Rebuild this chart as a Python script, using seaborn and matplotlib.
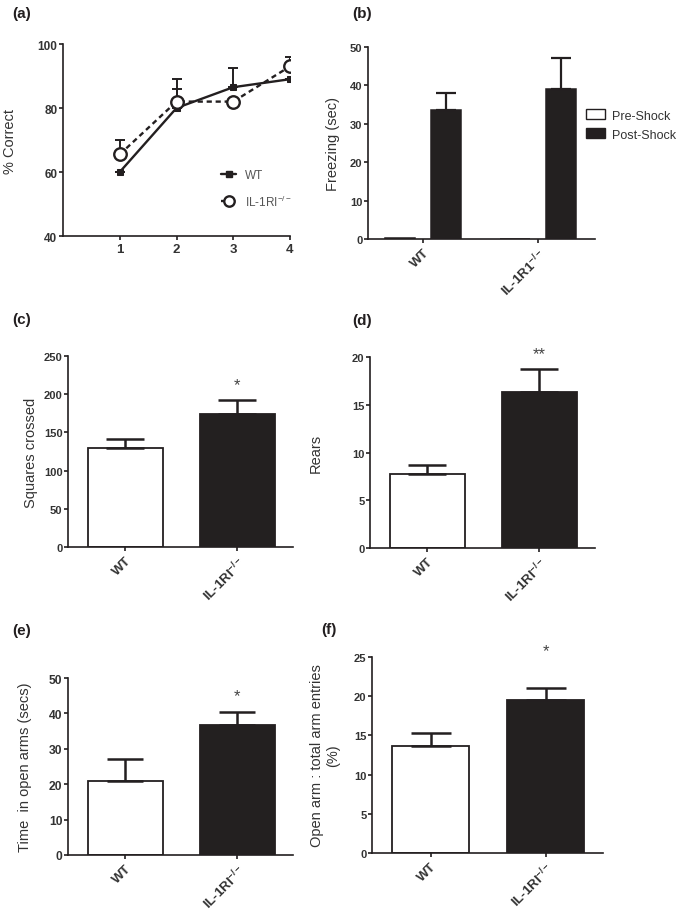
import matplotlib
matplotlib.use('Agg')
import matplotlib.pyplot as plt
import seaborn as sns
import pandas as pd
from matplotlib.lines import Line2D
from matplotlib.patches import Patch

# ---------------- data ----------------
# (a) spatial learning
trials = [1, 2, 3, 4]
wt_correct = [60, 80, 86.5, 89]
wt_correct_err = [0, 6, 6, 0]
ko_correct = [65.5, 82, 82, 93]
ko_correct_err = [4.5, 7, 0, 3]

# (b) freezing
b_genotypes = ['WT', r'IL-1R1$^{\mathbf{-/-}}$']
phases = ['Pre-Shock', 'Post-Shock']
freezing_pre = [0.2, 0.0]
freezing_post = [33.5, 39.0]
freezing_pre_err = [0.0, 0.0]
freezing_post_err = [4.5, 8.2]

# (c)-(f)
genotypes = ['WT', r'IL-1RI$^{\mathbf{-/-}}$']
squares = [130, 174]
squares_err = [11, 18]
rears = [7.7, 16.3]
rears_err = [1.0, 2.4]
open_time = [21.0, 36.8]
open_time_err = [6.0, 3.6]
open_ratio = [13.6, 19.5]
open_ratio_err = [1.7, 1.5]

# significance marks: (text, y position)
sig_c = ('*', 213)
sig_d = ('**', 20.4)
sig_e = ('*', 45)
sig_f = ('*', 25.8)

# ---------------- style ----------------
sns.set_theme(style='ticks')
plt.rcParams['font.family'] = ['Liberation Sans', 'DejaVu Sans']
plt.rcParams['mathtext.fontset'] = 'custom'
plt.rcParams['mathtext.rm'] = 'Liberation Sans'
plt.rcParams['mathtext.bf'] = 'Liberation Sans:bold'
plt.rcParams['axes.linewidth'] = 1.1
INK = '#231f20'

W, H = 678, 912
fig = plt.figure(figsize=(W / 100, H / 100), dpi=100)
fig.patch.set_facecolor('white')


def axpx(l, t, r, b):
    return fig.add_axes([l / W, 1 - b / H, (r - l) / W, (b - t) / H])


def style(ax, ysize=8, xsize=9.5):
    sns.despine(ax=ax)
    for s in ('left', 'bottom'):
        ax.spines[s].set_color(INK)
        ax.spines[s].set_linewidth(1.2)
    ax.tick_params(axis='both', direction='out', length=3, width=1.2, color=INK)
    ax.tick_params(axis='y', labelsize=ysize, pad=1)
    ax.tick_params(axis='x', labelsize=xsize, pad=2)
    for lab in ax.get_yticklabels():
        lab.set_fontweight('bold')
        lab.set_color('#333333')
    for lab in ax.get_xticklabels():
        lab.set_fontweight('bold')
        lab.set_color('#333333')
    ax.set_facecolor('white')


def ylab(ax, text, right_px_offset, width_px):
    ax.set_ylabel(text, fontsize=10.5, color='#333333')
    ax.yaxis.set_label_coords(-right_px_offset / width_px, 0.5)


def rot_labels(ax):
    for lab in ax.get_xticklabels():
        lab.set_rotation(45)
        lab.set_ha('right')
        lab.set_rotation_mode('anchor')


# ---------------- (a) ----------------
ax = axpx(63, 45, 290, 237)
sns.lineplot(x=trials, y=wt_correct, ax=ax, color=INK, lw=1.7, marker='s',
             markersize=5, markeredgecolor=INK, markerfacecolor=INK)
sns.lineplot(x=trials, y=ko_correct, ax=ax, color=INK, lw=1.7,
             linestyle=(0, (2.2, 1.6)), marker='o', markersize=9,
             markerfacecolor='white', markeredgecolor=INK, markeredgewidth=1.7)
ax.errorbar(trials, wt_correct, yerr=[[0] * 4, wt_correct_err], fmt='none',
            ecolor=INK, elinewidth=1.4, capsize=3.8, capthick=1.4, zorder=1)
ax.errorbar(trials, ko_correct, yerr=[[0] * 4, ko_correct_err], fmt='none',
            ecolor=INK, elinewidth=1.4, capsize=3.8, capthick=1.4, zorder=1)
ax.set_xlim(0, 4)
ax.set_ylim(40, 100)
ax.set_xticks(trials)
ax.set_yticks([40, 60, 80, 100])
style(ax, ysize=8.5, xsize=9.5)
ylab(ax, '% Correct', 46, 227)
handles = [Line2D([], [], color=INK, lw=1.7, marker='s', markersize=5),
           Line2D([], [], color=INK, lw=1.7, linestyle=(0, (2.2, 1.6)), marker='o',
                  markersize=7.5, markerfacecolor='white', markeredgewidth=1.7)]
ax.legend(handles, ['WT', r'IL-1RI$^{-/-}$'], loc='center left',
          bbox_to_anchor=(221 / W, 1 - 190 / H), bbox_transform=fig.transFigure,
          frameon=False, fontsize=8.5, handlelength=1.3, handletextpad=0.7,
          labelspacing=1.0, borderpad=0, borderaxespad=0, labelcolor='#555555')

# ---------------- (b) ----------------
ax = axpx(368, 48, 595, 240)
dfb = pd.DataFrame({
    'genotype': b_genotypes * 2,
    'phase': [phases[0]] * 2 + [phases[1]] * 2,
    'value': freezing_pre + freezing_post,
})
sns.barplot(data=dfb, x='genotype', y='value', hue='phase', hue_order=phases,
            palette=['white', INK], gap=0.35, edgecolor=INK, linewidth=1.1,
            errorbar=None, legend=False, ax=ax)
for cont, vals, errs in zip(ax.containers, [freezing_pre, freezing_post],
                            [freezing_pre_err, freezing_post_err]):
    for bar, v, e in zip(cont, vals, errs):
        if e > 0:
            ax.errorbar(bar.get_x() + bar.get_width() / 2, v, yerr=[[0], [e]],
                        fmt='none', ecolor=INK, elinewidth=1.6, capsize=7.2,
                        capthick=1.6, zorder=1)
ax.set_xlim(-0.48, 1.5)
ax.set_ylim(0, 50)
ax.set_yticks([0, 10, 20, 30, 40, 50])
ax.set_xlabel('')
style(ax, ysize=8, xsize=9.5)
rot_labels(ax)
ylab(ax, 'Freezing (sec)', 28, 227)
leg_handles = [Patch(facecolor='white', edgecolor=INK, linewidth=1.0),
               Patch(facecolor=INK, edgecolor=INK, linewidth=1.0)]
ax.legend(leg_handles, phases, loc='center left',
          bbox_to_anchor=(586 / W, 1 - 126 / H), bbox_transform=fig.transFigure,
          frameon=False, fontsize=9, handlelength=1.5, handleheight=0.8,
          handletextpad=0.6, labelspacing=0.55, borderpad=0, borderaxespad=0,
          labelcolor='#333333')


# ---------------- (c)-(f) ----------------
def bar_panel(box, values, errs, ylim, yticks, label, lab_off, sig, capsize, ysize):
    l, t, r, b = box
    ax = axpx(l, t, r, b)
    df = pd.DataFrame({'genotype': genotypes, 'value': values})
    sns.barplot(data=df, x='genotype', y='value', hue='genotype',
                palette=['white', INK], width=0.67, edgecolor=INK, linewidth=1.3,
                errorbar=None, legend=False, ax=ax)
    for i, (v, e) in enumerate(zip(values, errs)):
        ax.errorbar(i, v, yerr=[[0], [e]], fmt='none', ecolor=INK, elinewidth=1.8,
                    capsize=capsize, capthick=1.8, zorder=1)
    ax.set_xlim(-0.51, 1.5)
    ax.set_ylim(*ylim)
    ax.set_yticks(yticks)
    ax.set_xlabel('')
    style(ax, ysize=ysize, xsize=9.5)
    rot_labels(ax)
    ylab(ax, label, lab_off, r - l)
    ax.text(1, sig[1], sig[0], ha='center', va='center', fontsize=12,
            color='#444444', clip_on=False)
    return ax


bar_panel((68, 357, 293, 548), squares, squares_err, (0, 250),
          [0, 50, 100, 150, 200, 250], 'Squares crossed', 30, sig_c, 13.5, 8)
bar_panel((370, 358, 595, 549), rears, rears_err, (0, 20),
          [0, 5, 10, 15, 20], 'Rears', 47, sig_d, 14, 8)
bar_panel((68, 679, 293, 856), open_time, open_time_err, (0, 50),
          [0, 10, 20, 30, 40, 50], 'Time  in open arms (secs)', 36, sig_e, 13, 8.7)
bar_panel((372, 658, 603, 854), open_ratio, open_ratio_err, (0, 25),
          [0, 5, 10, 15, 20, 25], 'Open arm : total arm entries\n(%)', 32, sig_f, 14.4, 8)

# panel letters
for txt, x, y in [('(a)', 12, 14), ('(b)', 352, 14), ('(c)', 12, 320),
                  ('(d)', 352, 321), ('(e)', 12, 631), ('(f)', 321, 630)]:
    fig.text(x / W, 1 - y / H, txt, fontsize=11, fontweight='bold', color=INK,
             ha='left', va='center')

fig.savefig('out.png', dpi=100, facecolor='white')
